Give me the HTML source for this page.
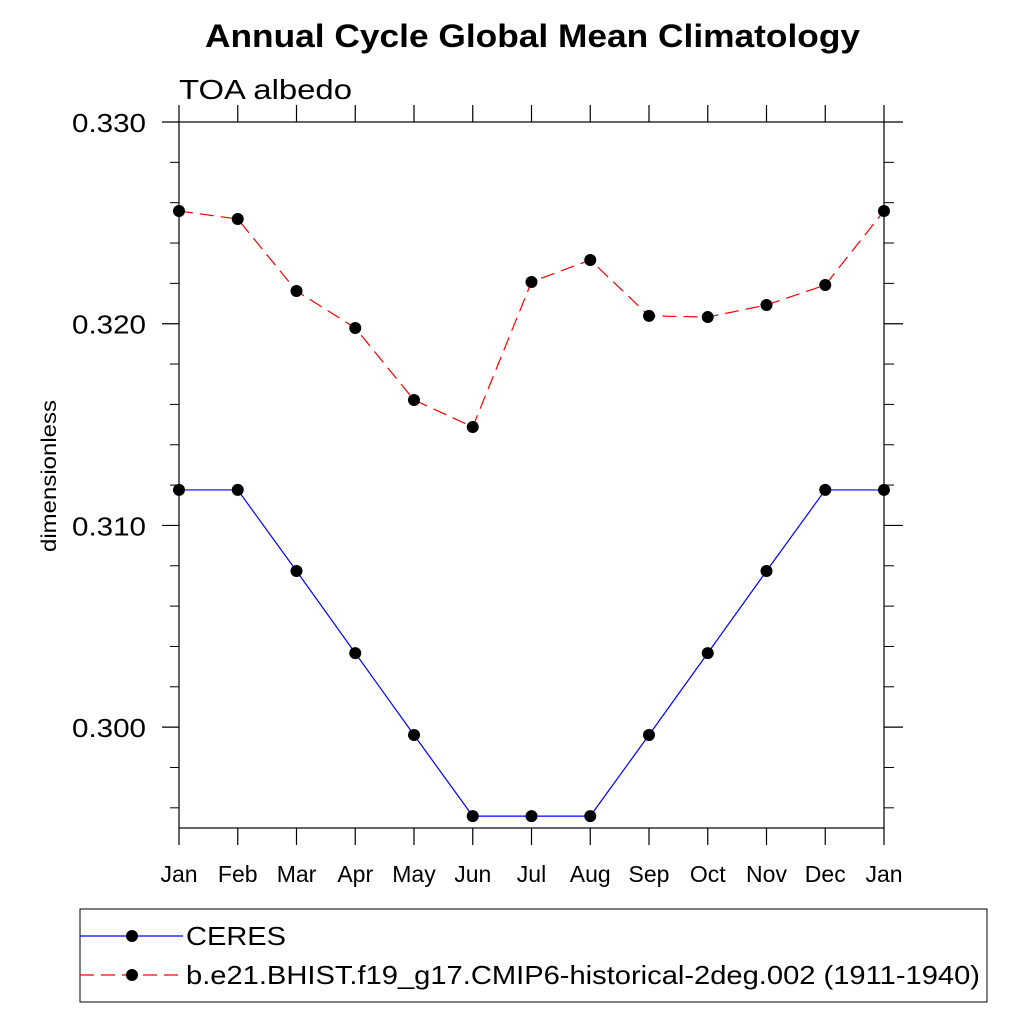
<!DOCTYPE html>
<html><head><meta charset="utf-8"><style>
html,body{margin:0;padding:0;background:#fff;}
svg{display:block;font-family:"Liberation Sans",sans-serif;}
</style></head><body>
<svg id="chart" width="1024" height="1024" viewBox="0 0 1024 1024">
<text x="205" y="47" font-size="32" font-weight="bold" textLength="655" lengthAdjust="spacingAndGlyphs">Annual Cycle Global Mean Climatology</text>
<text x="179" y="99" font-size="28" textLength="173" lengthAdjust="spacingAndGlyphs">TOA albedo</text>
<text transform="translate(56,476) rotate(-90)" x="-76" y="0" font-size="21" textLength="152" lengthAdjust="spacingAndGlyphs">dimensionless</text>
<g id="axes"></g>
<g id="series"></g>
<rect x="80" y="909" width="907" height="93" fill="none" stroke="#000" stroke-width="1"/>
<g>
<line x1="80" y1="936" x2="183" y2="936" stroke="#0000ff" stroke-width="1.2"/>
<circle cx="132" cy="936" r="6" fill="#000"/>
<text x="186" y="945" font-size="26" textLength="100" lengthAdjust="spacingAndGlyphs">CERES</text>
</g>
<g>
<line x1="80" y1="975" x2="183" y2="975" stroke="#ff0000" stroke-width="1.2" stroke-dasharray="14,7"/>
<circle cx="132" cy="975" r="6" fill="#000"/>
<text x="186" y="984" font-size="26" textLength="794" lengthAdjust="spacingAndGlyphs">b.e21.BHIST.f19_g17.CMIP6-historical-2deg.002 (1911-1940)</text>
</g>
</svg>
<script>
const months = ["Jan","Feb","Mar","Apr","May","Jun","Jul","Aug","Sep","Oct","Nov","Dec","Jan"];
const ceres = [0.31176,0.31176,0.30774,0.30367,0.29961,0.29559,0.29559,0.29559,0.29961,0.30367,0.30774,0.31176,0.31176];
const model = [0.32559,0.32519,0.32162,0.31979,0.31622,0.31488,0.32207,0.32316,0.32039,0.32033,0.32093,0.32192,0.32559];
const yTicks = [0.300,0.310,0.320,0.330];
const yTickLabels = ["0.300","0.310","0.320","0.330"];
const yMinorTicks = [0.296,0.298,0.302,0.304,0.306,0.308,0.312,0.314,0.316,0.318,0.322,0.324,0.326,0.328];

const X0=179,X1=884,Y0=828,Y1=122,YMIN=0.295,YMAX=0.330;
const xs=i=>X0+(X1-X0)*i/(months.length-1);
const ys=v=>Y0-(v-YMIN)/(YMAX-YMIN)*(Y0-Y1);
const NS="http://www.w3.org/2000/svg";
const axes=document.getElementById('axes'), series=document.getElementById('series');
function mk(tag,attrs,parent){const e=document.createElementNS(NS,tag);for(const k in attrs)e.setAttribute(k,attrs[k]);parent.appendChild(e);return e;}

const frame=mk('rect',{x:X0,y:Y1,width:X1-X0,height:Y0-Y1,fill:'none',stroke:'#000','stroke-width':1.2},axes);



months.forEach((m,i)=>{
  const x=xs(i);
  const t1=mk('line',{x1:x,y1:Y0,x2:x,y2:Y0+17,stroke:'#000','stroke-width':1.2},axes);
  
  
  const t2=mk('line',{x1:x,y1:Y1,x2:x,y2:Y1-17,stroke:'#000','stroke-width':1.2},axes);
  
  
  const tx=mk('text',{x:x,y:882,'text-anchor':'middle','font-size':23},axes);
  tx.textContent=m;
  
  
});
yTicks.forEach((v,i)=>{
  const y=ys(v);
  const a=mk('line',{x1:X0-17,y1:y,x2:X0,y2:y,stroke:'#000','stroke-width':1.2},axes);
  
  
  const b=mk('line',{x1:X1,y1:y,x2:X1+19,y2:y,stroke:'#000','stroke-width':1.2},axes);
  
  
  const t=mk('text',{x:72,y:y+10,'font-size':26,textLength:74,lengthAdjust:'spacingAndGlyphs'},axes);
  t.textContent=yTickLabels[i];
  
  
});
yMinorTicks.forEach(v=>{
  const y=ys(v);
  const a=mk('line',{x1:X0-9,y1:y,x2:X0,y2:y,stroke:'#000','stroke-width':1},axes);
  
  
  const b=mk('line',{x1:X1,y1:y,x2:X1+10,y2:y,stroke:'#000','stroke-width':1},axes);
  
  
});

function drawSeries(vals,color,dash,name){
  const p=mk('polyline',{points:vals.map((v,i)=>xs(i)+','+ys(v)).join(' '),fill:'none',stroke:color,'stroke-width':1.2,'stroke-dasharray':dash},series);
  
  
  vals.forEach((v,i)=>{
    const c=mk('circle',{cx:xs(i),cy:ys(v),r:6,fill:'#000'},series);
    
    
  });
}
drawSeries(ceres,'#0000ff','none','ceres');
drawSeries(model,'#ff0000','14,7','model');
</script>
</body></html>
